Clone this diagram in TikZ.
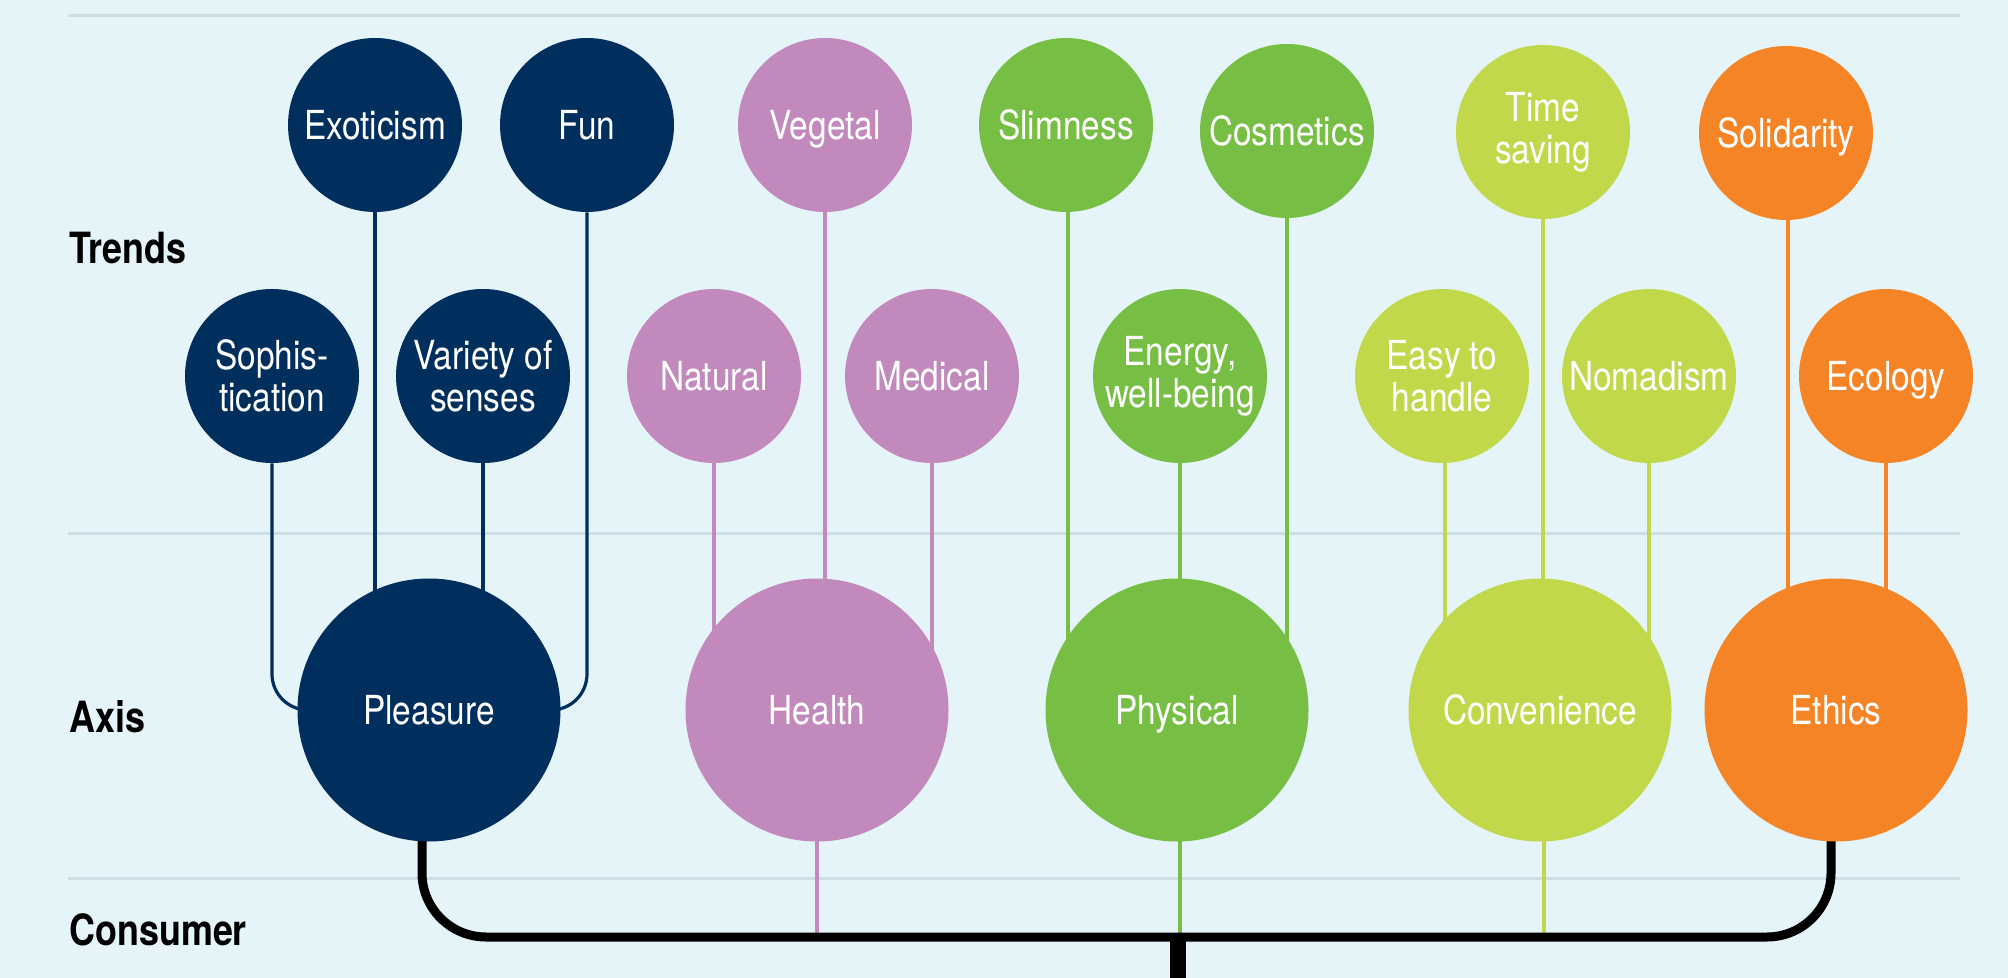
\documentclass[tikz,border=0pt]{standalone}
\usepackage{fontspec}
\setmainfont{TeX Gyre Heros}[FakeStretch=0.835]
\pgfdeclarelayer{bg}
\pgfdeclarelayer{lines}
\pgfsetlayers{bg,lines,main}
\definecolor{bgc}{HTML}{E5F4F8}
\definecolor{sepc}{HTML}{CCDFE5}
\definecolor{cnavy}{HTML}{012F5D}
\definecolor{cpink}{HTML}{C189BC}
\definecolor{cgreen}{HTML}{77BF44}
\definecolor{clime}{HTML}{C1D84A}
\definecolor{corange}{HTML}{F58426}
\begin{document}
\begin{tikzpicture}[x=0.5pt,y=-0.5pt,
  bub/.style={circle,inner sep=0pt,text=white,font=\fontsize{20}{21}\selectfont,align=center},
  one/.style={text height=14.4pt,text depth=0pt},
  smallb/.style={bub,minimum size=87pt},
  bigb/.style={bub,one,minimum size=131.5pt},
  conn/.style={line width=1.6pt},
  rowlab/.style={anchor=west,font=\fontsize{21.5}{23}\selectfont\bfseries,text=black,inner sep=0pt},
  sepline/.style={draw=sepc,line width=1.5pt}]
\useasboundingbox (0,0) rectangle (2008,978);
\begin{pgfonlayer}{bg}
  \fill[bgc] (0,0) rectangle (2008,978);
  \draw[sepline] (68,16) -- (1960,16);
  \draw[sepline] (68,533) -- (1960,533);
  \draw[sepline] (68,878) -- (1960,878);
\end{pgfonlayer}

% row labels
\node[rowlab] (trends) at (69,248) {Trends};
\node[rowlab] (axis) at (69,717) {Axis};
\node[rowlab] (cons) at (69,930) {Consumer};

% top trends
\node[smallb,one,fill=cnavy] (exo) at (375,125) {Exoticism};
\node[smallb,one,fill=cnavy] (fun) at (587,125) {Fun};
\node[smallb,one,fill=cpink] (veg) at (825,125) {Vegetal};
\node[smallb,one,fill=cgreen] (slim) at (1066,125) {Slimness};
\node[smallb,one,fill=cgreen] (cosm) at (1287,131) {Cosmetics};
\node[smallb,fill=clime] (time) at (1543,132) {Time\\saving};
\node[smallb,one,fill=corange] (soli) at (1786,133) {Solidarity};

% second row trends
\node[smallb,fill=cnavy] (soph) at (272,376) {Sophis-\\tication};
\node[smallb,fill=cnavy] (var) at (483,376) {Variety of\\senses};
\node[smallb,one,fill=cpink] (nat) at (714,376) {Natural};
\node[smallb,one,fill=cpink] (med) at (932,376) {Medical};
\node[smallb,fill=cgreen] (ener) at (1180,376) {Energy,\\well-being};
\node[smallb,fill=clime] (easy) at (1442,376) {Easy to\\handle};
\node[smallb,one,fill=clime] (noma) at (1649,376) {Nomadism};
\node[smallb,one,fill=corange] (eco) at (1886,376) {Ecology};

% axis
\node[bigb,fill=cnavy] (plea) at (429,710) {Pleasure};
\node[bigb,fill=cpink] (heal) at (817,710) {Health};
\node[bigb,fill=cgreen] (phys) at (1177,710) {Physical};
\node[bigb,fill=clime] (conv) at (1540,710) {Convenience};
\node[bigb,fill=corange] (eth) at (1836,710) {Ethics};

\coordinate (hub) at (1178,937);
\coordinate (bot) at (1178,995);

\begin{pgfonlayer}{lines}
  \draw[conn,cnavy,rounded corners=18pt] (soph.south) |- (plea.center);
  \draw[conn,cnavy] (exo.south) -- (exo.south |- plea.center);
  \draw[conn,cnavy] (var.south) -- (var.south |- plea.center);
  \draw[conn,cnavy,rounded corners=18pt] (fun.south) |- (plea.center);

  \draw[conn,cpink] (nat.south) -- (nat.south |- heal.center);
  \draw[conn,cpink] (veg.south) -- (veg.south |- heal.center);
  \draw[conn,cpink] (med.south) -- (med.south |- heal.center);
  \draw[conn,cpink] (heal.center) -- (heal.center |- hub);

  \draw[conn,cgreen] ([xshift=1pt]slim.south) -- ([xshift=1pt]slim.south |- phys.center);
  \draw[conn,cgreen] (ener.south) -- (ener.south |- phys.center);
  \draw[conn,cgreen] (cosm.south) -- (cosm.south |- phys.center);
  \draw[conn,cgreen] ([xshift=1.5pt]phys.center) -- ([xshift=1.5pt]phys.center |- hub);

  \draw[conn,clime] ([xshift=1.5pt]easy.south) -- ([xshift=1.5pt]easy.south |- conv.center);
  \draw[conn,clime] (time.south) -- (time.south |- conv.center);
  \draw[conn,clime] (noma.south) -- (noma.south |- conv.center);
  \draw[conn,clime] ([xshift=2pt]conv.center) -- ([xshift=2pt]conv.center |- hub);

  \draw[conn,corange] ([xshift=1pt]soli.south) -- ([xshift=1pt]soli.south |- eth.center);
  \draw[conn,corange] (eco.south) -- (eco.south |- eth.center);

  \draw[line width=4.5pt,black,rounded corners=32pt]
    ([xshift=-3.5pt]plea.center) |- (hub) -| ([xshift=-2.5pt]eth.center);
  \draw[line width=8pt,black] (hub) -- (bot);
\end{pgfonlayer}
\end{tikzpicture}
\end{document}
